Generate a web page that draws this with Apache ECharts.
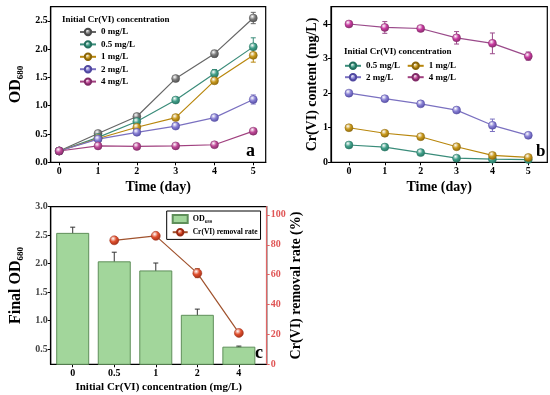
<!DOCTYPE html>
<html>
<head>
<meta charset="utf-8">
<script src="https://cdn.jsdelivr.net/npm/echarts@6/dist/echarts.min.js"></script>
<style>html,body{margin:0;padding:0;background:#fff}#c{width:550px;height:395px}</style>
</head>
<body>
<div id="c"></div>
<script>
// ---------- data ----------
const days = [0, 1, 2, 3, 4, 5];
const dayTicks = [0, 1, 2, 3, 4, 5];
const concNames = ['0 mg/L', '0.5 mg/L', '1 mg/L', '2 mg/L', '4 mg/L'];
// panel a: OD680 vs time
const od0  = [0.20, 0.51, 0.81, 1.48, 1.92, 2.55];
const od05 = [0.20, 0.44, 0.72, 1.10, 1.57, 2.04];
const od1  = [0.20, 0.42, 0.62, 0.79, 1.44, 1.89];
const od2  = [0.20, 0.41, 0.53, 0.64, 0.79, 1.11];
const od4  = [0.20, 0.29, 0.28, 0.29, 0.31, 0.55];
const odErr0  = [0.02, 0.03, 0.03, 0.03, 0.06, 0.10];
const odErr05 = [0.02, 0.02, 0.03, 0.03, 0.07, 0.16];
const odErr1  = [0.02, 0.02, 0.03, 0.03, 0.05, 0.12];
const odErr2  = [0.02, 0.02, 0.02, 0.02, 0.03, 0.08];
const odErr4  = [0.02, 0.02, 0.02, 0.02, 0.02, 0.03];
const odTicks = [0, 0.5, 1.0, 1.5, 2.0, 2.5];
// panel b: Cr(VI) content vs time
const cr05 = [0.50, 0.44, 0.28, 0.12, 0.09, 0.08];
const cr1  = [1.00, 0.84, 0.74, 0.45, 0.20, 0.14];
const cr2  = [2.00, 1.84, 1.69, 1.51, 1.07, 0.78];
const cr4  = [4.00, 3.90, 3.87, 3.60, 3.44, 3.07];
const crErr05 = [0.02, 0.02, 0.02, 0.02, 0.02, 0.02];
const crErr1  = [0.02, 0.02, 0.03, 0.03, 0.04, 0.03];
const crErr2  = [0.02, 0.03, 0.03, 0.04, 0.18, 0.06];
const crErr4  = [0.03, 0.17, 0.05, 0.18, 0.30, 0.12];
const crTicks = [0, 1, 2, 3, 4];
// panel c: final OD680 and removal rate
const concLabels = ['0', '0.5', '1', '2', '4'];
const concIdx = [0, 1, 2, 3, 4];
const finalOD    = [2.54, 2.04, 1.88, 1.10, 0.54];
const finalODErr = [0.10, 0.16, 0.13, 0.10, 0.01];
const removal    = [null, 83, 86, 61, 21];
const removalErr = [null, 1, 1, 3, 1];
const finalTicks = [0.5, 1.0, 1.5, 2.0, 2.5, 3.0];
const removalTicks = [0, 20, 40, 60, 80, 100];

// ---------- styles ----------
const FF = "'Liberation Serif','Times New Roman',serif";
const pal = {
  '0 mg/L':   {ball:'#7a7a7a', dark:'#4a4a4a', line:'#666666'},
  '0.5 mg/L': {ball:'#42a08a', dark:'#23705e', line:'#3a8c7a'},
  '1 mg/L':   {ball:'#c99a1e', dark:'#8a6508', line:'#b8860b'},
  '2 mg/L':   {ball:'#8880d4', dark:'#5048a0', line:'#7a70c0'},
  '4 mg/L':   {ball:'#c04a98', dark:'#802a66', line:'#a0407f'}
};
function ball(c, d) {
  return {type:'radial', x:0.38, y:0.32, r:0.75, colorStops:[
    {offset:0, color:'#ffffff'}, {offset:0.45, color:c}, {offset:1, color:d}]};
}
function lineSeries(name, xs, ys, xi, yi, p, size) {
  return {
    name, type:'line', xAxisIndex:xi, yAxisIndex:yi, z:3,
    data: xs.map((x, i) => [x, ys[i]]).filter(d => d[1] != null),
    symbol:'circle', symbolSize: size || 8,
    lineStyle:{color:p.line, width:1.2},
    itemStyle:{color: ball(p.ball, p.dark), borderColor:p.dark, borderWidth:0.5},
    emphasis:{disabled:true}, animation:false
  };
}
function errSeries(id, xs, ys, es, xi, yi, color, capHalf) {
  return {
    name:id, type:'custom', xAxisIndex:xi, yAxisIndex:yi, z:2, silent:true, animation:false,
    data: xs.map((x, i) => [x, ys[i], es[i]]).filter(d => d[1] != null),
    renderItem(params, api) {
      const x = api.value(0), y = api.value(1), e = api.value(2);
      const a = api.coord([x, y + e]), b = api.coord([x, y - e]);
      const st = {stroke:color, lineWidth:1};
      return {type:'group', children:[
        {type:'line', shape:{x1:a[0], y1:a[1], x2:b[0], y2:b[1]}, style:st},
        {type:'line', shape:{x1:a[0]-capHalf, y1:a[1], x2:a[0]+capHalf, y2:a[1]}, style:st},
        {type:'line', shape:{x1:b[0]-capHalf, y1:b[1], x2:b[0]+capHalf, y2:b[1]}, style:st}
      ]};
    }
  };
}
const tickLbl = {fontFamily:FF, fontWeight:'bold', fontSize:10, color:'#000'};
function xAx(gi, min, max, ticks, fmt, name, gap, nameSize) {
  return {
    type:'value', gridIndex:gi, min, max, position:'bottom',
    axisLine:{show:true, onZero:false, lineStyle:{color:'#000', width:1.2}},
    axisTick:{show:true, inside:false, length:3, customValues:ticks, lineStyle:{color:'#000', width:1}},
    axisLabel:{...tickLbl, margin:4, customValues:ticks, formatter:fmt},
    splitLine:{show:false},
    name, nameLocation:'middle', nameGap:gap,
    nameTextStyle:{fontFamily:FF, fontWeight:'bold', fontSize:nameSize, color:'#000'}
  };
}
function yAx(gi, min, max, ticks, fmt, name, gap, extra) {
  return Object.assign({
    type:'value', gridIndex:gi, min, max,
    axisLine:{show:true, onZero:false, lineStyle:{color:'#000', width:1.2}},
    axisTick:{show:true, inside:false, length:3, customValues:ticks, lineStyle:{color:'#000', width:1}},
    axisLabel:{...tickLbl, margin:3, customValues:ticks, formatter:fmt},
    splitLine:{show:false},
    name, nameLocation:'middle', nameGap:gap,
    nameTextStyle:{fontFamily:FF, fontWeight:'bold', fontSize:14, color:'#000',
      rich:{m:{fontFamily:FF, fontWeight:'bold', fontSize:16, lineHeight:18, color:'#000'},
            s:{fontFamily:FF, fontWeight:'bold', fontSize:9, lineHeight:9, verticalAlign:'bottom', color:'#000'}}}
  }, extra || {});
}
const legText = {fontFamily:FF, fontWeight:'bold', fontSize:9, color:'#000'};
function oneLegend(name, left, top) {
  return {data:[name], left, top, orient:'horizontal', itemWidth:16, itemHeight:8, padding:0,
    textStyle:legText, selectedMode:false};
}

const series = [];
const aSets = [[od0, odErr0], [od05, odErr05], [od1, odErr1], [od2, odErr2], [od4, odErr4]];
aSets.forEach((s, k) => {
  const nm = concNames[k];
  series.push(errSeries('errA' + k, days, s[0], s[1], 0, 0, pal[nm].line, 2.5));
  series.push(lineSeries(nm, days, s[0], 0, 0, pal[nm]));
});
const bSets = [['0.5 mg/L', cr05, crErr05], ['1 mg/L', cr1, crErr1], ['2 mg/L', cr2, crErr2], ['4 mg/L', cr4, crErr4]];
bSets.forEach((s, k) => {
  const p = s[0] === '4 mg/L' ? {ball:'#c83aa0', dark:'#802a66', line:'#9a4a8a'} : pal[s[0]];
  series.push(errSeries('errB' + k, days, s[1], s[2], 1, 1, p.line, 2.5));
  series.push(lineSeries(s[0], days, s[1], 1, 1, p));
});
series.push({
  name:'OD680', type:'bar', xAxisIndex:2, yAxisIndex:2, barWidth:33, z:2, animation:false,
  data: concIdx.map((x, i) => [x, finalOD[i]]),
  itemStyle:{color:'#a2d69b', borderColor:'#5f8f5a', borderWidth:1}
});
series.push(errSeries('errC', concIdx, finalOD, finalODErr, 2, 2, '#333333', 2.5));
series.push(errSeries('errR', concIdx, removal, removalErr, 2, 3, '#a0522d', 2.5));
series.push(lineSeries('Cr(VI) removal rate', concIdx, removal, 2, 3,
  {ball:'#e0502e', dark:'#9a2a14', line:'#a0522d'}, 9));

const option = {
  animation:false,
  backgroundColor:'#ffffff',
  grid:[
    {left:50.7, top:6.7, width:215, height:155.6, show:true, borderColor:'#000', borderWidth:1.2, backgroundColor:'transparent'},
    {left:331, top:6.7, width:216.3, height:155.6, show:true, borderColor:'#000', borderWidth:1.2, backgroundColor:'transparent'},
    {left:50.7, top:206.7, width:216, height:157.6, show:true, borderColor:'#000', borderWidth:1.2, backgroundColor:'transparent'}
  ],
  xAxis:[
    xAx(0, -0.22, 5.32, dayTicks, v => String(v), 'Time (day)', 18, 14),
    xAx(1, -0.5, 5.53, dayTicks, v => String(v), 'Time (day)', 18, 14),
    xAx(2, -0.53, 4.67, concIdx, v => concLabels[v], 'Initial Cr(VI) concentration (mg/L)', 17, 11)
  ],
  yAxis:[
    yAx(0, 0, 2.75, odTicks, v => v.toFixed(1), '{m|OD}{s|680}', 26),
    yAx(1, 0, 4.5, crTicks, v => String(v), 'Cr(VI) content (mg/L)', 11),
    yAx(2, 0.23, 3.0, finalTicks, v => v.toFixed(1), '{m|Final OD}{s|680}', 26,
      {axisLabel:{...tickLbl, color:'#444', margin:3, customValues:finalTicks, formatter:v => v.toFixed(1)}}),
    yAx(2, 0, 105.5, removalTicks, v => String(v), 'Cr(VI) removal rate (%)', 21,
      {position:'right',
       axisLine:{show:true, onZero:false, lineStyle:{color:'#e06666', width:1.2}},
       axisTick:{show:true, inside:false, length:3, customValues:removalTicks, lineStyle:{color:'#e06666', width:1}},
       axisLabel:{...tickLbl, color:'#e05555', margin:4, customValues:removalTicks}})
  ],
  legend:[
    {data:concNames, orient:'vertical', left:79, top:27.5, itemWidth:16, itemHeight:8, itemGap:3.4,
     padding:0, textStyle:legText, selectedMode:false},
    oneLegend('0.5 mg/L', 344, 61.3),
    oneLegend('1 mg/L', 406.7, 61.3),
    oneLegend('2 mg/L', 344, 72.7),
    oneLegend('4 mg/L', 406.7, 72.7),
    {data:[{name:'OD680', icon:'rect'}, {name:'Cr(VI) removal rate'}], orient:'vertical',
     left:166.7, top:211, itemWidth:15, itemHeight:8, itemGap:4, padding:[3, 3, 3, 5],
     backgroundColor:'#fff', borderColor:'#000', borderWidth:1, selectedMode:false,
     formatter: n => n === 'OD680' ? '{m|OD}{s|680}' : n,
     textStyle:{fontFamily:FF, fontWeight:'bold', fontSize:7.5, color:'#000',
       rich:{m:{fontFamily:FF, fontWeight:'bold', fontSize:8, lineHeight:10},
             s:{fontFamily:FF, fontWeight:'bold', fontSize:5, lineHeight:5, verticalAlign:'bottom'}}}}
  ],
  graphic:[
    {type:'text', left:62, top:15, style:{text:'Initial Cr(VI) concentration', fontFamily:FF, fontWeight:'bold', fontSize:9, fill:'#000'}},
    {type:'text', left:344, top:47, style:{text:'Initial Cr(VI) concentration', fontFamily:FF, fontWeight:'bold', fontSize:9, fill:'#000'}},
    {type:'text', left:246, top:142, style:{text:'a', fontFamily:FF, fontWeight:'bold', fontSize:18, fill:'#000'}},
    {type:'text', left:536, top:143, style:{text:'b', fontFamily:FF, fontWeight:'bold', fontSize:17, fill:'#000'}},
    {type:'text', left:255, top:344, style:{text:'c', fontFamily:FF, fontWeight:'bold', fontSize:18, fill:'#000'}}
  ],
  series
};
const chart = echarts.init(document.getElementById('c'), null, {renderer:'canvas'});
chart.setOption(option);
</script>
</body>
</html>
